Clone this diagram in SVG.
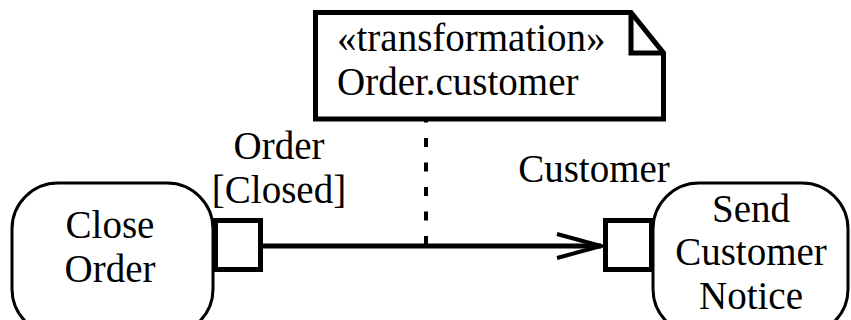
<svg xmlns="http://www.w3.org/2000/svg" width="851" height="320" viewBox="0 0 851 320" font-family="serif">
  <style>
    .t { font-size: 39px; fill: #000; }
    .c { text-anchor: middle; }
    .node { fill: #fff; stroke: #000; stroke-width: 3; }
    .pin { fill: #fff; stroke: #000; stroke-width: 5; }
    .flow { fill: none; stroke: #000; stroke-width: 5; }
  </style>
  <defs>
    <marker id="open-arrow" markerUnits="userSpaceOnUse" markerWidth="50" markerHeight="30" refX="46" refY="14" orient="auto">
      <path d="M2,2 L46,14 L2,26" fill="none" stroke="#000" stroke-width="4"/>
    </marker>
  </defs>

  <!-- object flow and note anchor -->
  <g id="connectors">
    <line class="flow" x1="263" y1="246" x2="601" y2="246" marker-end="url(#open-arrow)"/>
    <line x1="426" y1="113.5" x2="426" y2="246" stroke="#000" stroke-width="4" stroke-dasharray="9 15.5"/>
  </g>

  <!-- action: Close Order -->
  <g id="close-order">
    <rect class="node" x="12" y="183" width="201" height="152" rx="46" ry="46"/>
    <text class="t c" x="110" y="238">Close</text>
    <text class="t c" x="110" y="282">Order</text>
  </g>

  <!-- output pin -->
  <g id="pin-order">
    <rect class="pin" x="215.5" y="220.5" width="45" height="49"/>
    <text class="t c" x="279" y="159">Order</text>
    <text class="t c" x="279" y="203">[Closed]</text>
  </g>

  <!-- action: Send Customer Notice -->
  <g id="send-notice">
    <rect class="node" x="653" y="183" width="195" height="152" rx="46" ry="46"/>
    <text class="t c" x="751" y="222">Send</text>
    <text class="t c" x="751" y="265">Customer</text>
    <text class="t c" x="751" y="309">Notice</text>
  </g>

  <!-- input pin -->
  <g id="pin-customer">
    <rect class="pin" x="605.5" y="220.5" width="46" height="49"/>
    <text class="t c" x="594" y="182">Customer</text>
  </g>

  <!-- transformation note -->
  <g id="note">
    <path d="M315.5,12.5 H631 L663.5,53 V119 H315.5 Z" fill="#fff" stroke="#000" stroke-width="5" stroke-linejoin="miter"/>
    <path d="M631,12.5 V53 H663.5" fill="none" stroke="#000" stroke-width="5"/>
    <text class="t" x="337" y="51">«transformation»</text>
    <text class="t" x="337" y="95">Order.customer</text>
  </g>
</svg>
